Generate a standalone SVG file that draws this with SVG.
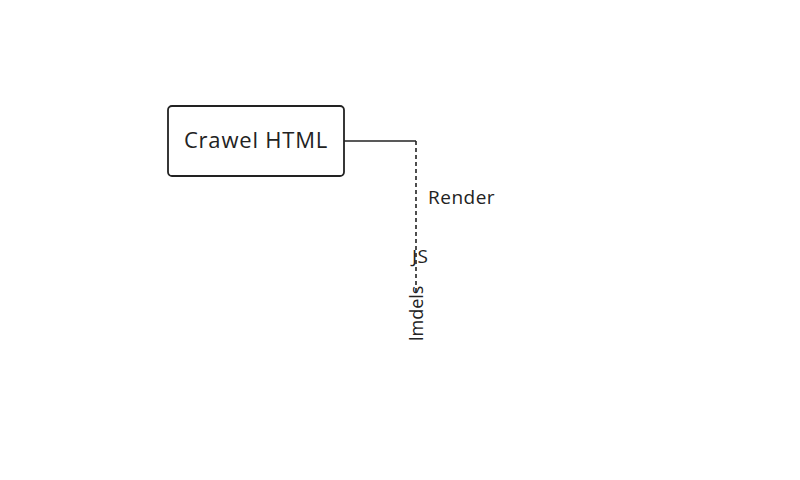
<svg xmlns="http://www.w3.org/2000/svg" width="800" height="480" viewBox="0 0 800 480">
<style>
.t{font-family:"Open Sans","Liberation Sans",sans-serif;fill:#222}
</style>
<rect width="800" height="480" fill="#ffffff"/>
<g id="connectors" fill="none" stroke="#222" stroke-width="1.6">
<path d="M344 141 H416"/>
<path d="M416 141 V292" stroke-dasharray="4 3"/>
</g>
<g id="node-crawel">
<rect x="168" y="106" width="176" height="70" rx="4" fill="#fff" stroke="#222" stroke-width="1.8"/>
<text class="t" x="256" y="148" font-size="22" letter-spacing="0.8" text-anchor="middle">Crawel HTML</text>
</g>
<g id="label-render"><text class="t" x="428" y="204" font-size="19" letter-spacing="0.5">Render</text></g>
<g id="label-js"><text class="t" x="412" y="263" font-size="19" letter-spacing="0.5">JS</text></g>
<g id="label-lmdels"><text class="t" transform="translate(423 341) rotate(-90)" font-size="18">lmdels</text></g>
</svg>
